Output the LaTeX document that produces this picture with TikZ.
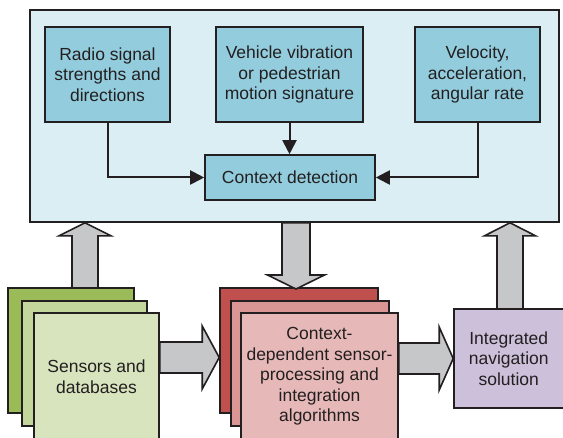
\documentclass[tikz,border=0pt]{standalone}
\usepackage{fontspec}
\setmainfont{Liberation Sans}
\usetikzlibrary{calc,arrows.meta}
\definecolor{edge}{HTML}{231F20}
\definecolor{outerc}{HTML}{DAEEF3}
\definecolor{tealc}{HTML}{93CDDD}
\definecolor{grayc}{HTML}{C6C7C9}
\definecolor{gback}{HTML}{9BBB59}
\definecolor{gmid}{HTML}{C3D69B}
\definecolor{gfront}{HTML}{D7E4BD}
\definecolor{rback}{HTML}{C0504D}
\definecolor{rmid}{HTML}{D99694}
\definecolor{rfront}{HTML}{E6B9B8}
\definecolor{purp}{HTML}{CCC0DA}
\newcommand\vblk[5]{%
  \draw[blk] ($(#1)+(-#3,0)$) -- ($(#2)+(-#3,#5)$) -- ($(#2)+(-#4,#5)$) -- (#2)
    -- ($(#2)+(#4,#5)$) -- ($(#2)+(#3,#5)$) -- ($(#1)+(#3,0)$) -- cycle;}
\newcommand\hblk[5]{%
  \draw[blk] ($(#1)+(0,-#3)$) -- ($(#2)+(#5,-#3)$) -- ($(#2)+(#5,-#4)$) -- (#2)
    -- ($(#2)+(#5,#4)$) -- ($(#2)+(#5,#3)$) -- ($(#1)+(0,#3)$) -- cycle;}
\tikzset{
  box/.style={draw=edge, line width=1.6bp, align=center, inner sep=0pt,
    font=\fontsize{17.5bp}{20.5bp}\selectfont, text=edge},
  sz/.style 2 args={minimum width=#1bp, minimum height=#2bp},
  arr/.style={draw=edge, line width=2bp, -{Triangle[length=14bp,width=14bp]}},
  blk/.style={draw=edge, fill=grayc, line width=1.6bp, line join=miter},
}
\begin{document}
\begin{tikzpicture}[x=1bp,y=-1bp]
\useasboundingbox (0,0) rectangle (563,438);
% outer context box
\node[box, fill=outerc, sz={529}{212}] (outer) at (294.5,116) {};
\node[box, fill=tealc, sz={125}{95}] (radio) at (107.5,74.5) {Radio signal\\strengths and\\directions};
\node[box, fill=tealc, sz={147}{95}] (vehicle) at (289.5,74.5) {Vehicle vibration\\or pedestrian\\motion signature};
\node[box, fill=tealc, sz={125}{95}] (velocity) at (477.5,74.5) {Velocity,\\acceleration,\\angular rate};
\node[box, fill=tealc, sz={170}{45}] (ctx) at (290,177.5) {Context detection};
\draw[arr] (radio.south) |- (ctx.west);
\draw[arr] (vehicle.south) -- (vehicle.south |- ctx.north);
\draw[arr] (velocity.south) |- (ctx.east);
% block arrows below boxes
\coordinate (a1b) at (85,290);
\coordinate (a1t) at (outer.south -| a1b);
\vblk{a1b}{a1t}{13}{26}{13}
\coordinate (a3b) at (510,310);
\coordinate (a3t) at (outer.south -| a3b);
\vblk{a3b}{a3t}{13}{25.5}{13}
% sensors stack
\node[box, fill=gback, sz={126}{125}] (gb) at (71,350.5) {};
\node[box, fill=gmid, sz={125}{125}] (gm) at (84.5,363.5) {};
\node[box, fill=gfront, sz={125}{127}] (gf) at (96.5,376.5) {Sensors and\\databases};
% algorithms stack
\node[box, fill=rback, sz={158}{125}] (rb) at (299,350.5) {};
\node[box, fill=rmid, sz={158}{125}] (rm) at (310,363.5) {};
\node[box, fill=rfront, sz={157}{127}] (rf) at (319.5,376.5) {Context-\\dependent sensor-\\processing and\\integration\\algorithms};
% navigation solution
\node[box, fill=purp, sz={109.5}{99}] (nav) at (508.75,358.5) {Integrated\\navigation\\solution};
% block arrows on top
\coordinate (a2t) at (296,289);
\coordinate (a2b) at (outer.south -| a2t);
\vblk{a2b}{a2t}{14}{28.5}{-14}
\coordinate (h1b) at (gf.east |- 0,357.5);
\coordinate (h1t) at (rb.west |- 0,357.5);
\hblk{h1b}{h1t}{15.5}{31.5}{-17}
\coordinate (h2b) at (rf.east |- 0,358.5);
\coordinate (h2t) at (nav.west |- 0,358.5);
\hblk{h2b}{h2t}{15.5}{31.5}{-14}
\end{tikzpicture}
\end{document}
